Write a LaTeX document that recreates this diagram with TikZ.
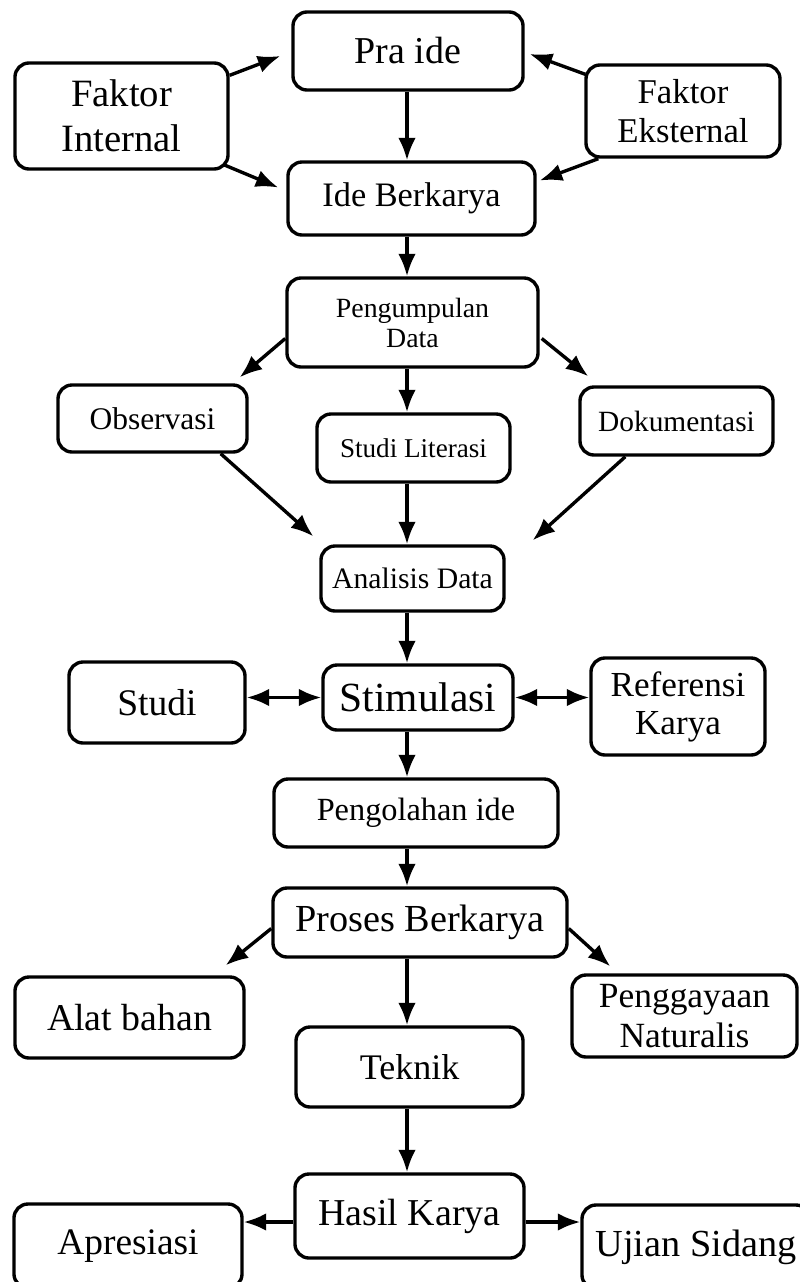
\documentclass[tikz,border=0pt]{standalone}
\usepackage{fontspec}
\setmainfont{Liberation Serif}
\usepackage{tikz}
\usetikzlibrary{arrows.meta,calc}

\begin{document}
\begin{tikzpicture}[
  x=0.025cm, y=-0.025cm,
  box/.style={draw,line width=2.4pt,rounded corners=10pt,align=center,inner sep=0pt},
  fs/.style 2 args={font=\fontsize{#1}{#2}\selectfont},
  ar/.style={-{Latex[length=16pt,width=12.5pt]},line width=2.4pt},
  dar/.style={{Latex[length=16pt,width=12.5pt]}-{Latex[length=16pt,width=12.5pt]},line width=2.4pt}
]
\useasboundingbox (0,0) rectangle (800,1282);
\coordinate (spine) at (407,0);

% ide
\node[box,minimum width=57.5mm,minimum height=19.5mm,fs={27}{32}] (praide) at (408,51) {Pra ide};
\node[box,minimum width=53.25mm,minimum height=26.5mm,fs={27.5}{32}] (fint) at (121.5,116) {Faktor\\Internal};
\node[box,minimum width=48.5mm,minimum height=23mm,fs={24.7}{27.7}] (feks) at (683,111) {Faktor\\Eksternal};
\node[box,minimum width=61.75mm,minimum height=18.25mm,fs={24.4}{28}] (ideb) at (411.5,198.5) {Ide Berkarya};

% data
\node[box,minimum width=62.75mm,minimum height=22.25mm,fs={19.8}{21.3}] (pengdata) at (412.5,322.5) {Pengumpulan\\Data};
\node[box,minimum width=47.25mm,minimum height=16.75mm,fs={22.4}{26}] (obs) at (152.5,418.5) {Observasi};
\node[box,minimum width=48.25mm,minimum height=17mm,fs={19.3}{22}] (stlit) at (413.5,448) {Studi Literasi};
\node[box,minimum width=48.25mm,minimum height=17mm,fs={20.9}{24}] (dok) at (676.5,421) {Dokumentasi};
\node[box,minimum width=45.75mm,minimum height=16.25mm,fs={21.1}{24}] (ana) at (412.5,578.5) {Analisis Data};

% stimulasi
\node[box,minimum width=44mm,minimum height=20.25mm,fs={26.7}{30}] (studi) at (157,702.5) {Studi};
\node[box,minimum width=47.5mm,minimum height=16.25mm,fs={29.5}{34}] (stim) at (418,697.5) {Stimulasi};
\node[box,minimum width=43.5mm,minimum height=24.25mm,fs={25}{27}] (ref) at (678,706.5) {Referensi\\Karya};
\node[box,minimum width=71mm,minimum height=17mm,fs={23}{27}] (olah) at (416,813) {Pengolahan ide};

% berkarya
\node[box,minimum width=73.5mm,minimum height=17.25mm,fs={27.2}{31}] (proses) at (420,922.5) {Proses Berkarya};
\node[box,minimum width=57.25mm,minimum height=20.25mm,fs={26.9}{31}] (alat) at (129.5,1017.5) {Alat bahan};
\node[box,minimum width=56.25mm,minimum height=20.5mm,fs={25.2}{28.5}] (gaya) at (684.5,1016) {Penggayaan\\Naturalis};
\node[box,minimum width=56.75mm,minimum height=20mm,fs={25.6}{30}] (teknik) at (409.5,1067) {Teknik};

% hasil
\node[box,minimum width=57.25mm,minimum height=21mm,fs={27}{31}] (hasil) at (409.5,1216) {Hasil Karya};
\node[box,minimum width=57mm,minimum height=21mm,fs={26.6}{31}] (apr) at (128,1246) {Apresiasi};
\node[box,minimum width=57mm,minimum height=21mm,fs={27.2}{31}] (ujian) at (696,1247) {Ujian Sidang};

\draw[ar] ([shift={(0,14)}]fint.north east) -- ([shift={(-11,5)}]praide.west);
\draw[ar] ([shift={(-6,-6)}]fint.south east) -- ([shift={(-8,-11)}]ideb.west);
\draw[ar] ([shift={(1,11)}]feks.north west) -- ([shift={(5,3)}]praide.east);
\draw[ar] ([shift={(14,0)}]feks.south west) -- ([shift={(3,-18)}]ideb.east);
\draw[ar] (praide.south -| spine) -- (ideb.north -| spine);
\draw[ar] (ideb.south -| spine) -- (pengdata.north -| spine);

\draw[ar] ([shift={(0,16)}]pengdata.west) -- ([shift={(-9,-6)}]obs.north east);
\draw[ar] ([shift={(2,16)}]pengdata.east) -- ([shift={(10,-9)}]dok.north west);
\draw[ar] (pengdata.south -| spine) -- (stlit.north -| spine);
\draw[ar] ([shift={(-28,0)}]obs.south east) -- ([shift={(-6,-8)}]ana.north west);
\draw[ar] ([shift={(47,0)}]dok.south west) -- ([shift={(27,-4)}]ana.north east);
\draw[ar] (stlit.south -| spine) -- (ana.north -| spine);
\draw[ar] (ana.south -| spine) -- (stim.north -| spine);

\draw[dar] (stim.west -| studi.east) -- (stim.west);
\draw[dar] (stim.east) -- (stim.east -| ref.west);
\draw[ar] (stim.south -| spine) -- (olah.north -| spine);
\draw[ar] (olah.south -| spine) -- (proses.north -| spine);

\draw[ar] ([shift={(0,6)}]proses.west) -- ([shift={(-20,-10)}]alat.north east);
\draw[ar] ([shift={(0,6)}]proses.east) -- ([shift={(40,-7)}]gaya.north west);
\draw[ar] (proses.south -| spine) -- (teknik.north -| spine);
\draw[ar] (teknik.south -| spine) -- (hasil.north -| spine);

\coordinate (hl) at ([shift={(0,6)}]hasil.west);
\coordinate (hr) at ([shift={(0,6)}]hasil.east);
\draw[ar] (hl) -- (hl -| apr.east);
\draw[ar] (hr) -- (hr -| ujian.west);
\end{tikzpicture}
\end{document}
